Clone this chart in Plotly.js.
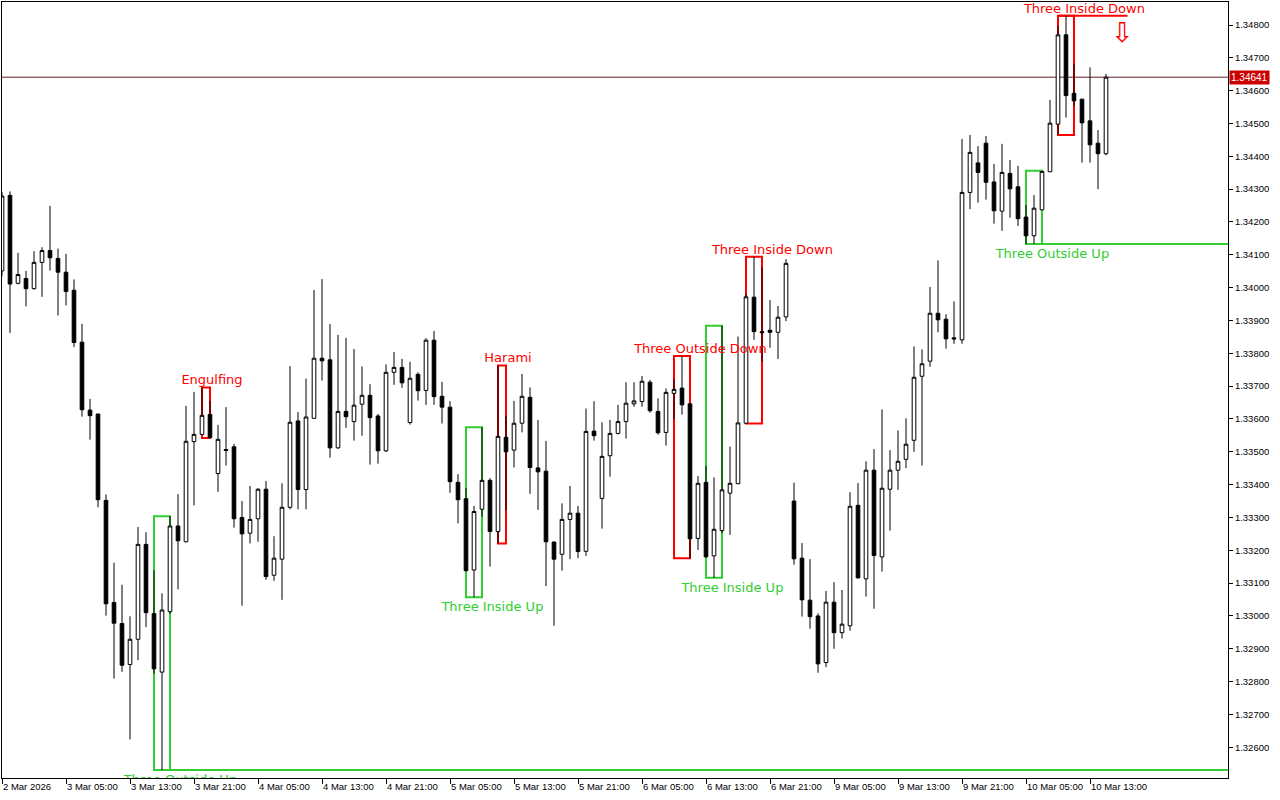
<!DOCTYPE html>
<html><head><meta charset="utf-8">
<script src="https://cdn.plot.ly/plotly-3.0.1.min.js"></script>
<style>html,body{margin:0;padding:0;background:#fff;}#chart{width:1280px;height:800px;}</style>
</head><body><div id="chart"></div>
<script>
// ---- data (hourly candles, first one is 2 Mar 2026 21:00, weekend skipped) ----
const startTime = '2026-03-02T21:00:00Z';
const open = [
1.34051,1.34281,1.34013,1.34028,1.33997,1.34077,1.34113,1.34089,1.34047,1.33992,
1.33834,1.33627,1.33615,1.33352,1.33041,1.32977,1.32852,1.32929,1.33218,1.33007,
1.32829,1.33013,1.33274,1.33226,1.33531,1.33553,1.33614,1.33434,1.33507,1.33515,
1.33300,1.33252,1.33296,1.33386,1.33124,1.33173,1.33331,1.33594,1.33385,1.33602,
1.33785,1.33780,1.33512,1.33623,1.33592,1.33645,1.33672,1.33609,1.33503,1.33742,
1.33757,1.33589,1.33736,1.33687,1.33840,1.33669,1.33636,1.33407,1.33357,1.33140,
1.33325,1.33413,1.33257,1.33544,1.33505,1.33587,1.33666,1.33451,1.33441,1.33225,
1.33188,1.33294,1.33313,1.33197,1.33563,1.33358,1.33488,1.33556,1.33592,1.33646,
1.33653,1.33712,1.33623,1.33559,1.33678,1.33694,1.33646,1.33236,1.33407,1.33183,
1.33260,1.33374,1.33403,1.33587,1.33971,1.33866,1.33870,1.33864,1.33911,1.33350,
1.33176,1.33048,1.33000,1.32858,1.33042,1.32949,1.32970,1.33337,1.33113,1.33444,
1.33180,1.33386,1.33444,1.33477,1.33535,1.33730,1.33776,1.33922,1.33904,1.33847,
1.33841,1.34290,1.34380,1.34440,1.34322,1.34233,1.34348,1.34307,1.34215,1.34158,
1.34237,1.34353,1.34498,1.34770,1.34592,1.34574,1.34508,1.34440,1.34408];
const high = [
1.34291,1.34293,1.34106,1.34051,1.34111,1.34123,1.34249,1.34119,1.34103,1.34025,
1.33890,1.33661,1.33616,1.33370,1.33162,1.33095,1.32999,1.33271,1.33255,1.33139,
1.33069,1.33304,1.33371,1.33640,1.33682,1.33696,1.33655,1.33582,1.33636,1.33524,
1.33350,1.33396,1.33389,1.33411,1.33243,1.33404,1.33761,1.33621,1.33723,1.33993,
1.34026,1.33889,1.33856,1.33847,1.33813,1.33760,1.33706,1.33615,1.33766,1.33804,
1.33783,1.33774,1.33742,1.33846,1.33868,1.33713,1.33654,1.33432,1.33389,1.33335,
1.33575,1.33420,1.33763,1.33609,1.33655,1.33737,1.33696,1.33597,1.33533,1.33227,
1.33343,1.33396,1.33335,1.33632,1.33654,1.33590,1.33597,1.33643,1.33712,1.33712,
1.33731,1.33719,1.33663,1.33693,1.33721,1.33792,1.33649,1.33426,1.33457,1.33422,
1.33884,1.33516,1.33851,1.33981,1.34094,1.34062,1.33962,1.33944,1.34087,1.33406,
1.33222,1.33173,1.33008,1.33076,1.33103,1.33079,1.33377,1.33405,1.33471,1.33508,
1.33629,1.33505,1.33565,1.33602,1.33821,1.33812,1.34002,1.34083,1.33919,1.33958,
1.34453,1.34465,1.34431,1.34462,1.34377,1.34438,1.34389,1.34371,1.34252,1.34282,
1.34356,1.34572,1.34797,1.34828,1.34681,1.34575,1.34671,1.34480,1.34651];
const low = [
1.34035,1.33862,1.34010,1.33943,1.33994,1.33972,1.34052,1.33915,1.33946,1.33819,
1.33607,1.33537,1.33331,1.33001,1.32809,1.32830,1.32624,1.32865,1.32966,1.32824,
1.32531,1.33006,1.33081,1.33224,1.33337,1.33552,1.33542,1.33378,1.33458,1.33269,
1.33031,1.33221,1.33226,1.33110,1.33107,1.33049,1.33325,1.33325,1.33325,1.33601,
1.33717,1.33482,1.33509,1.33573,1.33534,1.33549,1.33461,1.33464,1.33499,1.33704,
1.33695,1.33583,1.33656,1.33643,1.33643,1.33586,1.33375,1.33282,1.33135,1.33057,
1.33302,1.33150,1.33221,1.33321,1.33452,1.33559,1.33372,1.33323,1.33091,1.32970,
1.33138,1.33173,1.33176,1.33183,1.33534,1.33266,1.33424,1.33553,1.33540,1.33637,
1.33637,1.33619,1.33552,1.33519,1.33600,1.33613,1.33176,1.33201,1.33178,1.33116,
1.33252,1.33247,1.33401,1.33586,1.33841,1.33774,1.33817,1.33783,1.33898,1.33156,
1.32998,1.32961,1.32827,1.32844,1.32900,1.32931,1.32955,1.33114,1.33059,1.33022,
1.33135,1.33260,1.33384,1.33450,1.33500,1.33458,1.33759,1.33864,1.33814,1.33829,
1.33829,1.34239,1.34259,1.34268,1.34195,1.34173,1.34213,1.34188,1.34133,1.34133,
1.34236,1.34352,1.34465,1.34518,1.34553,1.34381,1.34381,1.34300,1.34403];
const close = [
1.34279,1.34011,1.34040,1.33997,1.34077,1.34113,1.34091,1.34047,1.33988,1.33833,
1.33628,1.33610,1.33354,1.33037,1.32978,1.32850,1.32929,1.33218,1.33010,1.32839,
1.33018,1.33274,1.33229,1.33532,1.33553,1.33611,1.33543,1.33538,1.33504,1.33296,
1.33250,1.33294,1.33386,1.33120,1.33176,1.33331,1.33590,1.33385,1.33606,1.33785,
1.33777,1.33512,1.33623,1.33607,1.33642,1.33672,1.33604,1.33503,1.33742,1.33757,
1.33710,1.33724,1.33686,1.33840,1.33668,1.33636,1.33409,1.33354,1.33138,1.33318,
1.33413,1.33257,1.33547,1.33500,1.33587,1.33669,1.33452,1.33439,1.33226,1.33173,
1.33294,1.33313,1.33196,1.33562,1.33549,1.33486,1.33556,1.33592,1.33648,1.33655,
1.33715,1.33625,1.33558,1.33681,1.33690,1.33643,1.33235,1.33404,1.33180,1.33264,
1.33384,1.33404,1.33588,1.33972,1.33866,1.33863,1.33864,1.33910,1.34074,1.33174,
1.33049,1.32998,1.32854,1.33042,1.32949,1.32975,1.33334,1.33116,1.33444,1.33184,
1.33389,1.33444,1.33471,1.33523,1.33727,1.33768,1.33922,1.33902,1.33844,1.33844,
1.34290,1.34412,1.34351,1.34321,1.34234,1.34351,1.34301,1.34210,1.34158,1.34242,
1.34354,1.34501,1.34770,1.34585,1.34569,1.34502,1.34435,1.34408,1.34641];

// detected patterns (candle index of first and last bar)
const patternNames = ['Three Outside Up','Engulfing','Three Inside Up','Harami','Three Outside Down','Three Inside Up','Three Inside Down','Three Outside Up','Three Inside Down'];
const patternStart = [19,25,58,62,84,88,93,128,132];
const patternEnd   = [21,26,60,63,86,90,95,130,134];
const patternSide  = ['bull','bear','bull','bear','bear','bull','bear','bull','bear'];
const patternLevel = [true,false,false,false,false,false,false,true,true];
const priceTicks = [1.326,1.327,1.328,1.329,1.330,1.331,1.332,1.333,1.334,1.335,1.336,1.337,1.338,1.339,1.340,1.341,1.342,1.343,1.344,1.345,1.346,1.347,1.348];

// ---- time axis ----
const MON = ['Jan','Feb','Mar','Apr','May','Jun','Jul','Aug','Sep','Oct','Nov','Dec'];
const times = [], xs = [], tickvals = [], ticktext = [];
let t = new Date(startTime);
while (times.length < open.length) {
  const dow = t.getUTCDay();
  if (dow !== 0 && dow !== 6) {
    const d = t.getUTCDate(), m = MON[t.getUTCMonth()], h = t.getUTCHours();
    const hh = String(h).padStart(2,'0') + ':00';
    const i = times.length;
    times.push(d + ' ' + m + ' ' + hh);
    xs.push(i);
    if (i === 0) { tickvals.push(i); ticktext.push(d + ' ' + m + ' ' + t.getUTCFullYear()); }
    else if (h % 8 === 5) { tickvals.push(i); ticktext.push(d + ' ' + m + ' ' + hh); }
  }
  t = new Date(t.getTime() + 3600000);
}

const GREEN = '#32cd32', RED = '#ff0000';
const xMax = 153.25;
const yMin = 1.3250637, yMax = 1.3487006;
const plotH = 776;
const pxPrice = (yMax - yMin) / plotH;
const last = close[close.length - 1];

const shapes = [];
const annotations = [];
const lblX = [], lblY = [], lblText = [], lblPos = [], lblColor = [];
patternNames.forEach((name, p) => {
  const s = patternStart[p], e = patternEnd[p];
  let top = -Infinity, bot = Infinity;
  for (let i = s; i <= e; i++) { top = Math.max(top, high[i]); bot = Math.min(bot, low[i]); }
  const bull = patternSide[p] === 'bull';
  const col = bull ? GREEN : RED;
  shapes.push({type:'rect', xref:'x', yref:'y', x0:s, x1:e, y0:bot, y1:top,
    line:{color:col, width:2}, fillcolor:'rgba(0,0,0,0)', layer:'below'});
  const n = e - s + 1;
  lblX.push(s + (n === 3 ? 3.3 : 1.25));
  lblY.push(bull ? bot - 4 * pxPrice : top);
  lblText.push(name);
  lblPos.push(bull ? 'bottom center' : 'top center');
  lblColor.push(col);
  if (patternLevel[p]) {
    if (bull) {
      shapes.push({type:'line', xref:'x', yref:'y', x0:s, x1:xMax, y0:bot, y1:bot, line:{color:col, width:2}, layer:'below'});
    } else {
      const ax = e + 6;
      shapes.push({type:'line', xref:'x', yref:'y', x0:s, x1:ax + 0.7, y0:top, y1:top, line:{color:col, width:2}, layer:'below'});
      annotations.push({x:ax, y:top, xref:'x', yref:'y', yanchor:'top', yshift:1, text:'\u21E9', showarrow:false,
        font:{family:'DejaVu Sans', size:27, color:RED}});
    }
  }
});

// current price line + label
shapes.push({type:'line', xref:'paper', yref:'y', x0:0, x1:1, y0:last, y1:last, line:{color:'#5a2020', width:1}, layer:'below'});
annotations.push({xref:'paper', x:1, xanchor:'left', xshift:1, y:last, yref:'y', yanchor:'middle',
  text:last.toFixed(5), showarrow:false, bgcolor:'#cc0000', borderpad:1,
  font:{family:'Liberation Sans, Arial, sans-serif', size:10, color:'#ffffff'}});

const traces = [
  {type:'candlestick', x:xs, open:open, high:high, low:low, close:close, text:times,
   increasing:{line:{color:'#000000', width:1}, fillcolor:'#ffffff'},
   decreasing:{line:{color:'#000000', width:1}, fillcolor:'#000000'},
   whiskerwidth:0, showlegend:false, hoverinfo:'text'},
  {type:'scatter', mode:'text', x:lblX, y:lblY, text:lblText, textposition:lblPos,
   textfont:{family:'DejaVu Sans', size:13, color:lblColor}, showlegend:false, hoverinfo:'skip', cliponaxis:true}
];

const axisFont = {family:'Liberation Sans, Arial, sans-serif', size:9.5, color:'#000'};
const layout = {
  width:1280, height:800,
  margin:{l:2, r:52, t:2, b:22, pad:0},
  paper_bgcolor:'#ffffff', plot_bgcolor:'#ffffff',
  showlegend:false, boxgap:0.35,
  xaxis:{type:'linear', range:[0, xMax], tickvals:tickvals, ticktext:ticktext,
    ticks:'outside', ticklen:5, tickcolor:'#000', tickwidth:1, tickangle:0,
    ticklabelposition:'outside right',
    showline:true, linecolor:'#000', linewidth:1, mirror:true,
    showgrid:false, zeroline:false, rangeslider:{visible:false}, tickfont:axisFont, fixedrange:true},
  yaxis:{side:'right', range:[yMin, yMax], tickvals:priceTicks, tickformat:'.5f',
    ticks:'outside', ticklen:4, tickcolor:'#000', tickwidth:1,
    showline:true, linecolor:'#000', linewidth:1, mirror:true,
    showgrid:false, zeroline:false, tickfont:axisFont, fixedrange:true},
  shapes:shapes, annotations:annotations
};
Plotly.newPlot('chart', traces, layout, {displayModeBar:false, staticPlot:true});
</script>
</body></html>
